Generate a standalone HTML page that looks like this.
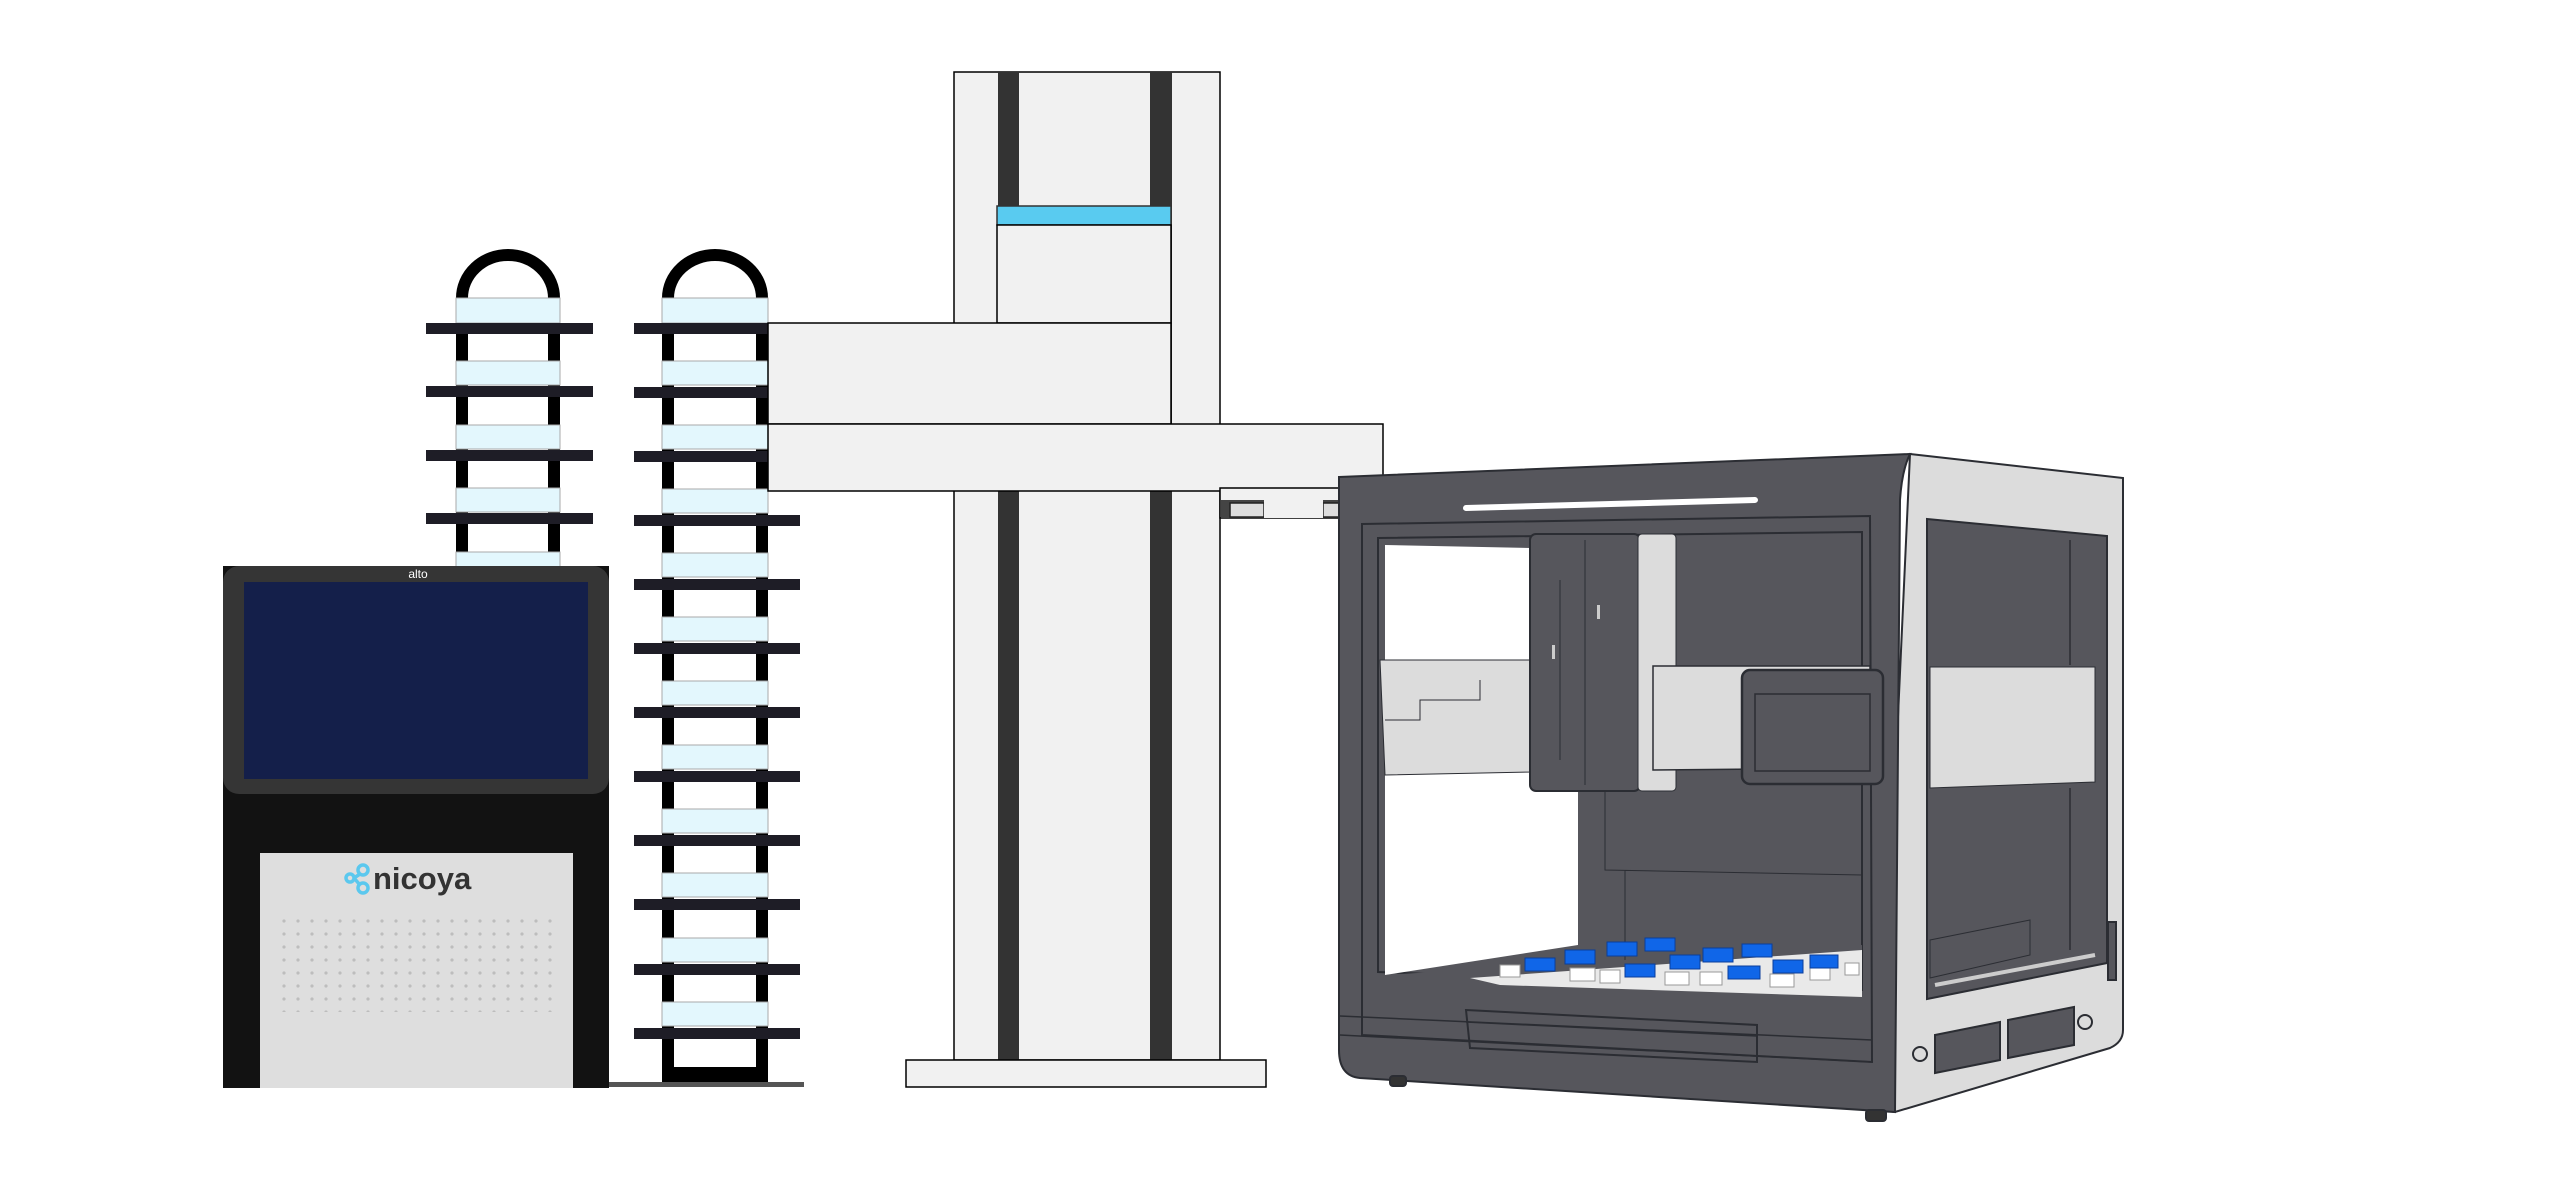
<!DOCTYPE html>
<html><head><meta charset="utf-8"><style>
html,body{margin:0;padding:0;background:#fff;width:2560px;height:1183px;overflow:hidden}
svg{display:block}
</style></head><body>
<svg width="2560" height="1183" viewBox="0 0 2560 1183" xmlns="http://www.w3.org/2000/svg">
<!-- Left rack -->
<g>
 <path d="M462 298 A46 43 0 0 1 554 298" fill="none" stroke="#000" stroke-width="12"/>
 <rect x="456" y="298" width="12" height="270" fill="#000"/>
 <rect x="548" y="298" width="12" height="270" fill="#000"/>
 <g fill="#e3f7fd" stroke="#aaa" stroke-width="1">
  <rect x="456" y="298" width="104" height="25"/>
  <rect x="456" y="361" width="104" height="24"/>
  <rect x="456" y="425" width="104" height="24"/>
  <rect x="456" y="488" width="104" height="24"/>
  <rect x="456" y="552" width="104" height="16"/>
 </g>
 <g fill="#1e1d26">
  <rect x="426" y="323" width="167" height="11"/>
  <rect x="426" y="386" width="167" height="11"/>
  <rect x="426" y="450" width="167" height="11"/>
  <rect x="426" y="513" width="167" height="11"/>
 </g>
</g>
<!-- Right rack -->
<g>
 <path d="M668 298 A47 43 0 0 1 762 298" fill="none" stroke="#000" stroke-width="12"/>
 <rect x="662" y="298" width="12" height="784" fill="#000"/>
 <rect x="756" y="298" width="12" height="784" fill="#000"/>
 <rect x="662" y="1067" width="106" height="15" fill="#000"/>
 <g fill="#e3f7fd" stroke="#aaa" stroke-width="1">
  <rect x="662" y="298" width="106" height="25"/>
  <rect x="662" y="361" width="106" height="24"/>
  <rect x="662" y="425" width="106" height="24"/>
  <rect x="662" y="489" width="106" height="24"/>
  <rect x="662" y="553" width="106" height="24"/>
  <rect x="662" y="617" width="106" height="24"/>
  <rect x="662" y="681" width="106" height="24"/>
  <rect x="662" y="745" width="106" height="24"/>
  <rect x="662" y="809" width="106" height="24"/>
  <rect x="662" y="873" width="106" height="24"/>
  <rect x="662" y="938" width="106" height="24"/>
  <rect x="662" y="1002" width="106" height="24"/>
 </g>
 <g fill="#1e1d26">
  <rect x="634" y="323" width="166" height="11"/>
  <rect x="634" y="387" width="166" height="11"/>
  <rect x="634" y="451" width="166" height="11"/>
  <rect x="634" y="515" width="166" height="11"/>
  <rect x="634" y="579" width="166" height="11"/>
  <rect x="634" y="643" width="166" height="11"/>
  <rect x="634" y="707" width="166" height="11"/>
  <rect x="634" y="771" width="166" height="11"/>
  <rect x="634" y="835" width="166" height="11"/>
  <rect x="634" y="899" width="166" height="11"/>
  <rect x="634" y="964" width="166" height="11"/>
  <rect x="634" y="1028" width="166" height="11"/>
 </g>
 <rect x="608" y="1082" width="196" height="5" fill="#555"/>
</g>
<!-- Alto instrument -->
<g>
 <rect x="223" y="566" width="386" height="522" fill="#121212"/>
 <rect x="223" y="566" width="386" height="228" rx="16" fill="#353535"/>
 <rect x="244" y="582" width="344" height="197" fill="#141f4a"/>
 <text x="418" y="578" font-family="Liberation Sans, sans-serif" font-size="12" fill="#fff" text-anchor="middle">alto</text>
 <rect x="260" y="853" width="313" height="235" fill="#dedede"/>
 <g fill="none" stroke="#5bc8ee" stroke-width="3.5">
  <circle cx="363" cy="870" r="5"/>
  <circle cx="350" cy="878" r="4"/>
  <circle cx="363" cy="888" r="5"/>
  <path d="M354 878 L360 874 M354 878 L360 885"/>
 </g>
 <text x="373" y="889" font-family="Liberation Sans, sans-serif" font-size="31" font-weight="bold" fill="#333">nicoya</text>
 <g fill="#bdbdbd">
  <pattern id="dots" x="281" y="918" width="14" height="13" patternUnits="userSpaceOnUse"><circle cx="3" cy="3" r="1.6"/></pattern>
 </g>
 <rect x="281" y="918" width="276" height="94" fill="url(#dots)"/>
</g>
<!-- Robot column -->
<g stroke="#000" stroke-width="1.5">
 <rect x="954" y="72" width="266" height="988" fill="#f1f1f1"/>
 <rect x="998" y="72" width="21" height="988" fill="#333" stroke="none"/>
 <rect x="1150" y="72" width="22" height="988" fill="#333" stroke="none"/>
 <rect x="997" y="206" width="174" height="19" fill="#59cbf0" stroke="#333"/>
 <rect x="997" y="225" width="174" height="98" fill="#f1f1f1"/>
 <rect x="768" y="323" width="403" height="101" fill="#f1f1f1"/>
 <rect x="768" y="424" width="615" height="67" fill="#f1f1f1"/>
 <rect x="906" y="1060" width="360" height="27" fill="#f1f1f1"/>
 <rect x="1220" y="488" width="153" height="30" fill="#f1f1f1"/>
 <rect x="1221" y="500" width="152" height="18" fill="#444" stroke="none"/>
 <rect x="1230" y="503" width="34" height="14" fill="#ddd" stroke="#222"/>
 <rect x="1323" y="503" width="34" height="14" fill="#ddd" stroke="#222"/>
 <rect x="1264" y="500" width="59" height="18" fill="#f1f1f1" stroke="none"/>
</g>
<!-- Liquid handler -->
<g stroke="#2b2d33" stroke-width="2">
 <!-- side -->
 <path d="M1910 454 L2123 478 L2123 1030 Q2123 1042 2110 1048 L1895 1112 L1880 1110 Z" fill="#dcdcdc"/>
 <path d="M1927 519 L2107 536 L2107 963 L1927 999 Z" fill="#56565c"/>
 <path d="M1930 667 L2095 667 L2095 782 L1930 788 Z" fill="#dcdcdc" stroke-width="1"/>
 <path d="M2070 540 L2070 665 M2070 788 L2070 950" stroke-width="1.5"/>
 <path d="M1930 940 L2030 920 L2030 955 L1930 978 Z" fill="#56565c" stroke-width="1"/>
 <path d="M1935 985 L2095 955" stroke="#ccc" stroke-width="4"/>
 <circle cx="1920" cy="1054" r="7" fill="#dcdcdc"/>
 <circle cx="2085" cy="1022" r="7" fill="#dcdcdc"/>
 <path d="M1935 1035 L2000 1022 L2000 1060 L1935 1073 Z" fill="#56565c"/>
 <path d="M2008 1020 L2074 1007 L2074 1045 L2008 1058 Z" fill="#56565c"/>
 <rect x="2108" y="922" width="8" height="58" fill="#56565c"/>
 <!-- front -->
 <path d="M1339 477 L1910 454 Q1902 470 1900 500 L1895 1112 L1360 1078 Q1339 1076 1339 1050 Z" fill="#56565c"/>
 <rect x="1390" y="1076" width="16" height="10" rx="3" fill="#333"/>
 <rect x="1866" y="1110" width="20" height="11" rx="3" fill="#333"/>
 <path d="M1466 508 L1755 500" stroke="#fff" stroke-width="6" stroke-linecap="round"/>
 <path d="M1362 524 L1870 516 L1872 1062 L1362 1035 Z" fill="none" stroke-width="2"/>
 <path d="M1378 538 L1862 532 L1862 990 L1378 972 Z" fill="none" stroke-width="2"/>
 <!-- white interior opening -->
 <path d="M1385 545 L1532 548 L1532 772 L1578 772 L1578 945 L1385 975 Z" fill="#fff" stroke="none"/>
 <path d="M1380 660 L1532 660 L1532 772 L1385 775 Z" fill="#dcdcdc" stroke-width="1"/>
 <path d="M1385 720 L1420 720 L1420 700 L1480 700 L1480 680" fill="none" stroke-width="1"/>
 <!-- pipette head -->
 <rect x="1530" y="534" width="110" height="257" rx="6" fill="#56565c"/>
 <rect x="1638" y="534" width="38" height="257" rx="4" fill="#dcdcdc" stroke-width="1"/>
 <path d="M1585 540 L1585 785 M1560 580 L1560 760" stroke-width="1"/>
 <rect x="1552" y="645" width="3" height="14" fill="#ccc" stroke="none"/>
 <rect x="1597" y="605" width="3" height="14" fill="#ccc" stroke="none"/>
 <!-- right gantry -->
 <path d="M1653 666 L1870 666 L1870 768 L1653 770 Z" fill="#dcdcdc" stroke-width="1.5"/>
 <rect x="1742" y="670" width="141" height="114" rx="8" fill="#56565c" stroke-width="2.5"/>
 <rect x="1755" y="694" width="115" height="77" fill="#56565c" stroke-width="1.5"/>
 <path d="M1605 790 L1605 870 L1862 875 M1625 870 L1625 965" fill="none" stroke-width="1"/>
 <!-- tray -->
 <path d="M1386 975 L1862 945 L1862 1000 L1480 985 Z" fill="#56565c" stroke="none"/>
 <path d="M1470 978 L1862 950 L1862 997 L1500 985 Z" fill="#e9e9e9" stroke="none"/>
 <g fill="#fff" stroke="#999" stroke-width="1">
  <rect x="1500" y="965" width="20" height="12"/><rect x="1570" y="968" width="25" height="13"/>
  <rect x="1600" y="970" width="20" height="13"/><rect x="1665" y="972" width="24" height="13"/>
  <rect x="1700" y="972" width="22" height="13"/><rect x="1770" y="974" width="24" height="13"/>
  <rect x="1810" y="968" width="20" height="12"/><rect x="1845" y="963" width="14" height="12"/>
 </g>
 <g fill="#1066e8" stroke="#0a3d9a" stroke-width="1">
  <rect x="1525" y="958" width="30" height="13"/><rect x="1565" y="950" width="30" height="14"/>
  <rect x="1607" y="942" width="30" height="14"/><rect x="1645" y="938" width="30" height="13"/>
  <rect x="1625" y="964" width="30" height="13"/><rect x="1670" y="955" width="30" height="14"/>
  <rect x="1703" y="948" width="30" height="14"/><rect x="1742" y="944" width="30" height="13"/>
  <rect x="1728" y="966" width="32" height="13"/><rect x="1773" y="960" width="30" height="13"/>
  <rect x="1810" y="955" width="28" height="13"/>
 </g>
 <!-- drawer -->
 <path d="M1340 1016 L1872 1040 M1340 1035 L1872 1062" fill="none" stroke-width="1.5"/>
 <path d="M1466 1010 L1757 1025 L1757 1062 L1470 1048 Z" fill="none" stroke-width="2"/>
 <path d="M1466 1022 L1757 1036" stroke-width="1.5"/>
</g>
</svg>
</body></html>
